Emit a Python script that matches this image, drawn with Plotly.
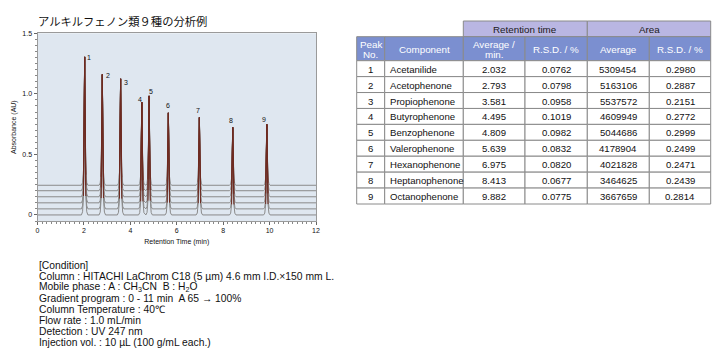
import plotly.graph_objects as go

# ---------------- data ----------------
TITLE = "アルキルフェノン類９種の分析例"

PEAK_NO = [1, 2, 3, 4, 5, 6, 7, 8, 9]
COMPONENTS = ["Acetanilide", "Acetophenone", "Propiophenone", "Butyrophenone",
              "Benzophenone", "Valerophenone", "Hexanophenone", "Heptanophenone",
              "Octanophenone"]
RT_AVG = [2.032, 2.793, 3.581, 4.495, 4.809, 5.639, 6.975, 8.413, 9.882]
RT_RSD = ["0.0762", "0.0798", "0.0958", "0.1019", "0.0982", "0.0832", "0.0820", "0.0677", "0.0775"]
AREA_AVG = [5309454, 5163106, 5537572, 4609949, 5044686, 4178904, 4021828, 3464625, 3667659]
AREA_RSD = ["0.2980", "0.2887", "0.2151", "0.2772", "0.2999", "0.2499", "0.2471", "0.2439", "0.2814"]
GROUP_HEADERS = ["Retention time", "Area"]
COL_HEADERS = [["Peak", "No."], ["Component"], ["Average /", "min."], ["R.S.D. / %"],
               ["Average"], ["R.S.D. / %"]]

# peak apex heights (AU)
PEAK_HEIGHT = [1.305, 1.160, 1.124, 0.932, 0.983, 0.843, 0.805, 0.723, 0.748]
# six overlaid injections, each with a stepped baseline (AU)
BASELINE_OFFSETS = [0.0, 0.05, 0.10, 0.15, 0.20, 0.245]
# shape of one peak: time from apex (min) / fraction of height
PROFILE_DT = [-0.14, -0.09, -0.05, -0.025, 0.0, 0.025, 0.05, 0.09, 0.14]
PROFILE_FRAC = [0.0, 0.02, 0.12, 0.5, 1.0, 0.5, 0.12, 0.02, 0.0]
X_START, X_END = 0, 12

X_TICKS = [0, 2, 4, 6, 8, 10, 12]
Y_TICKVALS = [0, 0.5, 1.0, 1.5]
Y_TICKTEXT = ["0", "0.5", "1.0", "1.5"]

CONDITIONS = [
    "[Condition]",
    "Column : HITACHI LaChrom C18 (5 µm) 4.6 mm I.D.×150 mm L.",
    "Mobile phase : A : CH<sub>3</sub>CN  B : H<sub>2</sub>O",
    "Gradient program : 0 - 11 min  A 65 → 100%",
    "Column Temperature : 40℃",
    "Flow rate : 1.0 mL/min",
    "Detection : UV 247 nm",
    "Injection vol. : 10 µL (100 g/mL each.)",
]

# ---------------- styling / layout ----------------
W, H = 720, 360
FONT = "Liberation Sans, Arial, sans-serif"
GRAY = "#8a8a8a"
PEAK_RED = "#6e2a20"
BG = "#dfe7f0"
BORDER = "#8a8a8a"
GROUP_FILL = "#b9b6e2"
HEAD_FILL = "#7b8fd0"
LBL_SHIFT = [(4, -1), (6, -1), (5, -4), (-2, 3), (2, 4), (0, 7), (-1, 7), (-2, 7), (-3, 5)]
RED_TRACES = [0, 2, 4]

# table geometry (pixels)
COL_EDGES = [356.7, 384.7, 463.3, 525.0, 587.3, 649.3, 710.7]
GROUP_TOP, HEAD_TOP, BODY_TOP, BODY_BOTTOM = 21.0, 36.7, 60.7, 204.0
COL_ALIGN = ["center", "left", "center", "center", "center", "center"]


def px(x):
    return x / W


def py(y):
    return 1 - y / H


fig = go.Figure()

# chromatogram traces
for off in BASELINE_OFFSETS:
    xs, ys = [X_START], [off]
    for rt, h in zip(RT_AVG, PEAK_HEIGHT):
        for dt, fr in zip(PROFILE_DT, PROFILE_FRAC):
            xs.append(rt + dt)
            ys.append(off + fr * (h - off))
    xs.append(X_END)
    ys.append(off)
    fig.add_trace(go.Scatter(x=xs, y=ys, mode="lines", line=dict(color=GRAY, width=1),
                             hoverinfo="skip", showlegend=False))
for k, off in enumerate(BASELINE_OFFSETS):
    if k not in RED_TRACES:
        continue
    xs, ys = [], []
    for rt, h in zip(RT_AVG, PEAK_HEIGHT):
        for dt, fr in list(zip(PROFILE_DT, PROFILE_FRAC))[2:-2]:
            xs.append(rt + dt)
            ys.append(off + fr * (h - off))
        xs.append(None)
        ys.append(None)
    fig.add_trace(go.Scatter(x=xs, y=ys, mode="lines", line=dict(color=PEAK_RED, width=1),
                             hoverinfo="skip", showlegend=False))

# peak numbers
for n, rt, h, (dx, dy) in zip(PEAK_NO, RT_AVG, PEAK_HEIGHT, LBL_SHIFT):
    fig.add_annotation(x=rt, y=h, text=str(n), showarrow=False, xshift=dx, yshift=dy,
                       font=dict(size=7, color="#111", family=FONT))


# ---------------- table ----------------
def cell(x0, x1, y0, y1, fill):
    fig.add_shape(type="rect", xref="paper", yref="paper", x0=px(x0), x1=px(x1),
                  y0=py(y1), y1=py(y0), fillcolor=fill, line=dict(color=BORDER, width=1),
                  layer="above")


def text(x, y, s, color, size, anchor="center"):
    fig.add_annotation(xref="paper", yref="paper", x=px(x), y=py(y), text=s,
                       showarrow=False, xanchor=anchor, yanchor="middle",
                       font=dict(size=size, color=color, family=FONT))


# group header row (spans two columns each)
for i, label in enumerate(GROUP_HEADERS):
    x0, x1 = COL_EDGES[2 + 2 * i], COL_EDGES[4 + 2 * i]
    cell(x0, x1, GROUP_TOP, HEAD_TOP, GROUP_FILL)
    text((x0 + x1) / 2, (GROUP_TOP + HEAD_TOP) / 2 + 0.5, label, "#1a1a1a", 9.8)

# column header row
for c, lines in enumerate(COL_HEADERS):
    x0, x1 = COL_EDGES[c], COL_EDGES[c + 1]
    cell(x0, x1, HEAD_TOP, BODY_TOP, HEAD_FILL)
    mid = (HEAD_TOP + BODY_TOP) / 2
    if len(lines) == 1:
        text((x0 + x1) / 2, mid + 0.5, lines[0], "white", 9.8)
    else:
        text((x0 + x1) / 2, mid - 4.5, lines[0], "white", 9.8)
        text((x0 + x1) / 2, mid + 5.5, lines[1], "white", 9.8)

# body rows
columns = [[str(v) for v in PEAK_NO], COMPONENTS, [f"{v:.3f}" for v in RT_AVG], RT_RSD,
           [str(v) for v in AREA_AVG], AREA_RSD]
row_h = (BODY_BOTTOM - BODY_TOP) / len(PEAK_NO)
for r in range(len(PEAK_NO)):
    y0 = BODY_TOP + r * row_h
    y1 = y0 + row_h
    for c, col in enumerate(columns):
        x0, x1 = COL_EDGES[c], COL_EDGES[c + 1]
        cell(x0, x1, y0, y1, "white")
        if COL_ALIGN[c] == "left":
            text(x0 + 3.5, (y0 + y1) / 2 + 0.5, col[r], "#111", 9.6, anchor="left")
        else:
            text((x0 + x1) / 2, (y0 + y1) / 2 + 0.5, col[r], "#111", 9.6)

# title
fig.add_annotation(xref="paper", yref="paper", x=px(36), y=py(21), xanchor="left",
                   yanchor="middle", text=TITLE, showarrow=False,
                   font=dict(size=11.3, color="#111", family="Noto Sans CJK JP"))

# conditions
for i, line in enumerate(CONDITIONS):
    fig.add_annotation(xref="paper", yref="paper", x=px(37), y=py(265 + 11 * i),
                       xanchor="left", yanchor="middle", text=line, showarrow=False,
                       font=dict(size=10.3, color="#111", family=FONT))

fig.update_layout(
    width=W, height=H, margin=dict(l=0, r=0, t=0, b=0, autoexpand=False),
    paper_bgcolor="white", plot_bgcolor=BG, showlegend=False, hovermode=False,
    font=dict(family=FONT, color="#111"),
    xaxis=dict(domain=[px(37.5), px(316)], range=[X_START, X_END], tickvals=X_TICKS,
               ticks="outside", ticklen=3, tickcolor="#666", showgrid=False, zeroline=False,
               showline=True, mirror=True, linecolor="#9a9a9a", linewidth=1,
               automargin=False,
               tickfont=dict(size=7), minor=dict(dtick=0.2, ticks="outside", ticklen=2,
                                                  tickcolor="#888"),
               title=dict(text="Retention Time (min)", font=dict(size=7), standoff=5)),
    yaxis=dict(domain=[py(221), py(33.3)], range=[-0.05, 1.5], tickvals=Y_TICKVALS,
               ticktext=Y_TICKTEXT, ticks="outside", ticklen=3, tickcolor="#666",
               showgrid=False, zeroline=False, showline=True, mirror=True,
               linecolor="#9a9a9a", linewidth=1, tickfont=dict(size=7), automargin=False,
               minor=dict(tickmode="linear", tick0=0, dtick=0.05, ticks="outside",
                          ticklen=2, tickcolor="#888"),
               title=dict(text="Absorbance (AU)", font=dict(size=7), standoff=4)),
)

fig.write_html("out.html", config={"displayModeBar": False},
               post_script="document.body.style.margin='0';")
